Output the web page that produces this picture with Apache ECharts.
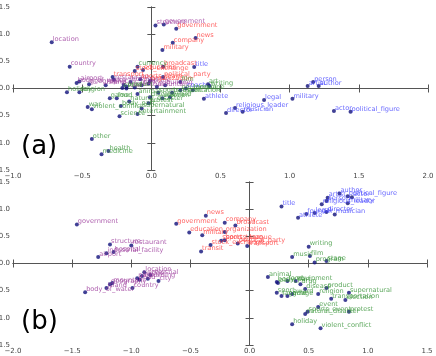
<html>
<head>
<meta charset="utf-8">
<script src="https://cdn.jsdelivr.net/npm/echarts@6/dist/echarts.min.js"></script>
<style>html,body{margin:0;padding:0;background:#fff}#main{width:436px;height:356px}</style>
</head>
<body>
<div id="main"></div>
<script>
// panel (a): [x, y, label]
var aPurple = [
    [-0.72, 0.85, 'location'], [-0.59, 0.40, 'country'], [0.03, 1.16, 'structure'],
    [0.09, 1.18, 'government'], [-0.54, 0.10, 'body_of_water'], [-0.52, 0.13, 'airport'],
    [-0.45, 0.08, 'geography'], [-0.33, 0.06, 'island'], [-0.27, 0.16, 'restaurant'],
    [-0.20, 0.07, 'city'], [-0.15, 0.12, 'hospital'], [-0.12, 0.02, 'celestial'],
    [-0.07, 0.06, 'park'], [-0.02, 0.09, 'bridge'], [0.04, 0.03, 'mountain'],
    [0.10, 0.06, 'building'], [-0.18, 0.00, 'road']
];
var aRed = [
    [0.18, 1.10, 'government'], [0.32, 0.93, 'news'], [0.155, 0.84, 'company'],
    [0.08, 0.71, 'military'], [0.085, 0.40, 'broadcast'], [-0.12, 0.32, 'stock_exchange'],
    [-0.06, 0.34, 'education'], [-0.28, 0.21, 'transport'], [0.085, 0.21, 'political_party'],
    [-0.08, 0.17, 'sports_team'], [-0.01, 0.14, 'organization']
];
var aBlue = [
    [0.31, 0.395, 'title'], [0.38, -0.19, 'athlete'], [0.25, 0.00, 'coach'],
    [0.815, -0.21, 'legal'], [0.605, -0.36, 'religious_leader'], [0.54, -0.45, 'director'],
    [0.66, -0.43, 'musician'], [1.02, -0.19, 'military'], [1.17, 0.12, 'person'],
    [1.13, 0.045, 'artist'], [1.21, 0.045, 'author'], [1.32, -0.415, 'actor'],
    [1.44, -0.43, 'political_figure']
];
var aGreen = [
    [-0.61, -0.07, 'holiday'], [-0.52, -0.07, 'religion'], [-0.43, -0.38, 'violent_conflict'],
    [-0.46, -0.34, 'war'], [-0.22, -0.32, 'body_part'], [-0.07, -0.37, 'supernatural'],
    [-0.23, -0.51, 'science'], [-0.10, -0.47, 'entertainment'], [-0.43, -0.93, 'other'],
    [-0.31, -1.15, 'health'], [-0.36, -1.21, 'medicine'], [-0.10, 0.40, 'currency'],
    [0.41, 0.08, 'art'], [0.42, 0.045, 'writing'], [0.30, -0.03, 'language'],
    [0.21, 0.12, 'film'], [-0.21, 0.01, 'event'], [-0.18, 0.03, 'product'],
    [-0.30, -0.18, 'game'], [-0.25, -0.18, 'food'], [-0.10, -0.10, 'animal'],
    [-0.01, -0.16, 'disease'], [0.08, -0.18, 'election'], [0.135, -0.16, 'award'],
    [0.21, -0.03, 'equipment'], [-0.16, -0.24, 'natural_disaster'], [-0.02, -0.27, 'protest'],
    [0.05, -0.08, 'sports_event'], [0.15, -0.08, 'transportation']
];

// panel (b)
var bPurple = [
    [-1.46, 0.72, 'government'], [-1.18, 0.35, 'structure'], [-1.00, 0.33, 'restaurant'],
    [-1.15, 0.21, 'hospital'], [-1.21, 0.19, 'industrial_facility'], [-1.28, 0.12, 'airport'],
    [-1.39, -0.53, 'body_of_water'], [-0.89, -0.16, 'location'], [-0.99, -0.45, 'country'],
    [-0.77, -0.32, 'city'], [-0.84, -0.21, 'celestial'], [-1.18, -0.38, 'geography'],
    [-1.21, -0.45, 'island'], [-1.16, -0.36, 'mountain'], [-0.95, -0.27, 'park'],
    [-0.91, -0.23, 'bridge'], [-0.93, -0.30, 'road'], [-0.86, -0.28, 'building']
];
var bRed = [
    [-0.37, 0.88, 'news'], [-0.62, 0.73, 'government'], [-0.51, 0.57, 'education'],
    [-0.40, 0.52, 'military'], [-0.33, 0.34, 'stock_exchange'], [-0.41, 0.22, 'transit'],
    [-0.21, 0.75, 'company'], [-0.12, 0.70, 'broadcast'], [-0.21, 0.58, 'organization'],
    [-0.24, 0.42, 'sports_team'], [-0.21, 0.43, 'sports_league'], [-0.10, 0.37, 'political_party'],
    [-0.02, 0.32, 'transport']
];
var bBlue = [
    [0.27, 1.05, 'title'], [0.41, 0.84, 'athlete'], [0.76, 1.29, 'author'],
    [0.66, 1.21, 'artist'], [0.865, 1.22, 'actor'], [0.83, 1.24, 'political_figure'],
    [0.61, 1.09, 'religious_leader'], [0.65, 1.15, 'person'], [0.83, 1.11, 'military'],
    [0.65, 0.95, 'director'], [0.72, 0.90, 'musician'], [0.48, 0.91, 'founder'],
    [0.55, 0.93, 'legal']
];
var bGreen = [
    [0.50, 0.31, 'writing'], [0.36, 0.12, 'music'], [0.51, 0.14, 'film'],
    [0.55, 0.02, 'program'], [0.65, 0.045, 'stage'], [0.155, -0.25, 'animal'],
    [0.23, -0.34, 'body_part'], [0.24, -0.36, 'plant'], [0.32, -0.32, 'food'],
    [0.39, -0.32, 'equipment'], [0.43, -0.38, 'drug'], [0.47, -0.47, 'disease'],
    [0.65, -0.45, 'product'], [0.23, -0.54, 'sport'], [0.27, -0.60, 'language'],
    [0.32, -0.60, 'game'], [0.36, -0.56, 'award'], [0.58, -0.56, 'religion'],
    [0.69, -0.65, 'transportation'], [0.81, -0.67, 'election'], [0.84, -0.54, 'supernatural'],
    [0.58, -0.80, 'event'], [0.49, -0.89, 'sports_event'], [0.47, -0.93, 'natural_disaster'],
    [0.84, -0.89, 'protest'], [0.36, -1.12, 'holiday'], [0.60, -1.19, 'violent_conflict']
];

var COLORS = { purple: '#9b3a9b', red: '#ff3c3c', blue: '#4444ff', green: '#379437' };

function fmt(v) {
    return (v < 0 ? '\u2212' : '') + Math.abs(v).toFixed(1);
}

function axisPair(kind, grid, min, max) {
    var line = { show: true, lineStyle: { color: '#555', width: 1 } };
    var tick = { show: true, inside: true, length: 4, lineStyle: { color: '#555' } };
    var main = {
        type: 'value', gridIndex: grid, min: min, max: max, interval: 0.5,
        position: kind === 'x' ? 'bottom' : 'left',
        axisLine: line, axisTick: tick, splitLine: { show: false },
        axisLabel: { fontSize: 7, color: '#444', margin: 3, fontFamily: 'DejaVu Sans', formatter: fmt }
    };
    var other = {
        type: 'value', gridIndex: grid, min: min, max: max, interval: 0.5,
        position: kind === 'x' ? 'top' : 'right',
        axisLine: line, axisTick: tick, splitLine: { show: false },
        axisLabel: { show: false }
    };
    return [main, other];
}

function mkSeries(pts, color, axisIdx) {
    return {
        type: 'scatter',
        xAxisIndex: axisIdx, yAxisIndex: axisIdx,
        symbolSize: 4,
        itemStyle: { color: '#10107a' },
        data: pts.map(function (p) { return { name: p[2], value: [p[0], p[1]] }; }),
        label: {
            show: true, position: 'right', distance: 0, offset: [-1, -3],
            formatter: '{b}', color: color, fontSize: 6.6, fontFamily: 'DejaVu Sans'
        },
        emphasis: { disabled: true }
    };
}

var chart = echarts.init(document.getElementById('main'));
chart.setOption({
    animation: false,
    grid: [
        { left: 13, top: 7, width: 415, height: 163, outerBoundsMode: 'none', containLabel: false },
        { left: 13, top: 182, width: 414, height: 163, outerBoundsMode: 'none', containLabel: false }
    ],
    xAxis: axisPair('x', 0, -1, 2).concat(axisPair('x', 1, -2, 1.5)),
    yAxis: axisPair('y', 0, -1.5, 1.5).concat(axisPair('y', 1, -1.5, 1.5)),
    graphic: [
        { type: 'text', left: 21, top: 134, style: { text: '(a)', font: '26px DejaVu Sans', fill: '#000' } },
        { type: 'text', left: 21, top: 309, style: { text: '(b)', font: '26px DejaVu Sans', fill: '#000' } }
    ],
    series: [
        mkSeries(aPurple, COLORS.purple, 0),
        mkSeries(aRed, COLORS.red, 0),
        mkSeries(aBlue, COLORS.blue, 0),
        mkSeries(aGreen, COLORS.green, 0),
        mkSeries(bPurple, COLORS.purple, 2),
        mkSeries(bRed, COLORS.red, 2),
        mkSeries(bBlue, COLORS.blue, 2),
        mkSeries(bGreen, COLORS.green, 2)
    ]
});
</script>
</body>
</html>
